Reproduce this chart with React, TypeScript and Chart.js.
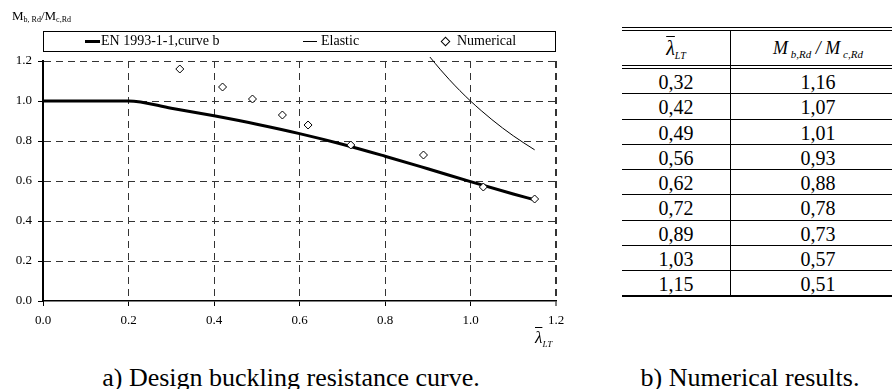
import React, { useEffect, useRef } from "react";
import { Chart, registerables } from "chart.js";

Chart.register(...registerables);

// ---- data ----
const xTicks = [0, 0.2, 0.4, 0.6, 0.8, 1.0, 1.2];
const yTicks = [0, 0.2, 0.4, 0.6, 0.8, 1.0, 1.2];

// EN 1993-1-1, curve b
const enLambda = [0, 0.2, 0.3, 0.4, 0.5, 0.6, 0.7, 0.8, 0.9, 1.0, 1.1, 1.15];
const enChi = [1.0, 1.0, 0.964, 0.926, 0.884, 0.837, 0.784, 0.724, 0.661, 0.597, 0.535, 0.506];

// Elastic curve
const elasticLambda = [0.905, 0.93, 0.95, 0.975, 1.0, 1.025, 1.05, 1.075, 1.1, 1.125, 1.15];
const elasticRatio = [1.22, 1.156, 1.108, 1.052, 1.0, 0.952, 0.907, 0.865, 0.826, 0.79, 0.756];

// Numerical results
const numLambda = [0.32, 0.42, 0.49, 0.56, 0.62, 0.72, 0.89, 1.03, 1.15];
const numRatio = [1.16, 1.07, 1.01, 0.93, 0.88, 0.78, 0.73, 0.57, 0.51];

const legendLabels = ["EN 1993-1-1,curve b", "Elastic", "Numerical"];
const captionA = "a) Design buckling resistance curve.";
const captionB = "b) Numerical results.";

const SERIF = '"Liberation Serif", "Times New Roman", serif';

const fmtComma = (v: number) => v.toFixed(2).replace(".", ",");

function ChartPanel() {
  const ref = useRef<HTMLCanvasElement | null>(null);
  useEffect(() => {
    if (!ref.current) return;
    const gridColor = (c: any) => {
      const v = c.tick ? c.tick.value : null;
      if (v === 0) return "rgba(0,0,0,0)";
      return "#333";
    };
    const chart = new Chart(ref.current, {
      type: "scatter",
      data: {
        datasets: [
          {
            label: legendLabels[2],
            data: numLambda.map((x, i) => ({ x, y: numRatio[i] })),
            showLine: false,
            pointStyle: "rectRot",
            pointRadius: 4,
            pointBackgroundColor: "#fff",
            pointBorderColor: "#000",
            pointBorderWidth: 1,
          },
          {
            label: legendLabels[0],
            data: enLambda.map((x, i) => ({ x, y: enChi[i] })),
            showLine: true,
            borderColor: "#000",
            borderWidth: 3,
            pointRadius: 0,
            cubicInterpolationMode: "monotone",
          } as any,
          {
            label: legendLabels[1],
            data: elasticLambda.map((x, i) => ({ x, y: elasticRatio[i] })),
            showLine: true,
            borderColor: "#000",
            borderWidth: 1,
            pointRadius: 0,
            cubicInterpolationMode: "monotone",
            clip: false,
          } as any,
        ],
      },
      options: {
        animation: false,
        responsive: false,
        devicePixelRatio: 1,
        layout: { padding: { left: 0, top: 61, right: 44, bottom: 4 } },
        plugins: { legend: { display: false }, tooltip: { enabled: false } },
        scales: {
          x: {
            type: "linear",
            min: 0,
            max: 1.2,
            afterBuildTicks: (s: any) => {
              s.ticks = xTicks.map((v) => ({ value: v }));
            },
            afterFit: (s: any) => {
              s.height = 25;
            },
            ticks: {
              color: "#000",
              font: { family: SERIF, size: 13 },
              padding: 7,
              maxRotation: 0,
              callback: (v: any) => Number(v).toFixed(1),
            },
            grid: {
              color: gridColor,
              lineWidth: (c: any) => (c.tick && c.tick.value === 1.2 ? 2 : 1),
              tickColor: "#000",
              tickLength: 5,
              tickWidth: 1,
            },
            border: { display: true, color: "#000", width: 1.5, dash: [7, 5] },
          },
          y: {
            type: "linear",
            min: 0,
            max: 1.2,
            afterBuildTicks: (s: any) => {
              s.ticks = yTicks.map((v) => ({ value: v }));
            },
            afterFit: (s: any) => {
              s.width = 43;
            },
            ticks: {
              color: "#000",
              font: { family: SERIF, size: 13 },
              padding: 6,
              callback: (v: any) => Number(v).toFixed(1),
            },
            grid: {
              color: gridColor,
              tickColor: "#000",
              tickLength: 5,
              tickWidth: 1,
            },
            border: { display: true, color: "#000", width: 2, dash: [7, 5] },
          },
        },
      } as any,
    });
    return () => chart.destroy();
  }, []);
  return (
    <canvas
      ref={ref}
      width={600}
      height={330}
      style={{ position: "absolute", left: 0, top: 0, width: 600, height: 330, display: "block" }}
    />
  );
}

function LambdaLT({ size, sub }: { size: number; sub: number }) {
  return (
    <span style={{ fontFamily: SERIF, fontStyle: "italic", whiteSpace: "nowrap" }}>
      <span style={{ fontSize: size, textDecoration: "overline", textDecorationThickness: 1 }}>λ</span>
      <sub style={{ fontSize: sub, verticalAlign: "baseline", position: "relative", top: size * 0.22 }}>LT</sub>
    </span>
  );
}

function Table() {
  const left = 622;
  const right = 906;
  const divX = 730;
  const rowTop0 = 69;
  const rowH = 25.25;
  const hLine = (y: number, h = 1) => (
    <div key={"l" + y} style={{ position: "absolute", left, top: y, width: right - left, height: h, background: "#000" }} />
  );
  const lines = [hLine(27), hLine(30), hLine(65), hLine(68)];
  for (let i = 1; i < numLambda.length; i++) lines.push(hLine(Math.round(rowTop0 + i * rowH) - 1));
  lines.push(hLine(295, 2));
  const cellStyle = (x: number, w: number, top: number): React.CSSProperties => ({
    position: "absolute",
    left: x,
    width: w,
    top,
    height: 25,
    lineHeight: "25px",
    textAlign: "center",
    fontFamily: SERIF,
    fontSize: 20,
    color: "#000",
  });
  return (
    <>
      {lines}
      <div style={{ position: "absolute", left: divX, top: 31, width: 1, height: 264, background: "#000" }} />
      <div style={{ ...cellStyle(left, divX - left, 33), height: 30, lineHeight: "30px" }}>
        <LambdaLT size={20} sub={10} />
      </div>
      <div
        style={{
          ...cellStyle(divX, right - divX, 33),
          height: 30,
          lineHeight: "30px",
          fontStyle: "italic",
          fontSize: 18,
        }}
      >
        M<sub style={{ fontSize: 11, verticalAlign: "baseline", position: "relative", top: 4 }}>&nbsp;b,Rd</sub> / M
        <sub style={{ fontSize: 11, verticalAlign: "baseline", position: "relative", top: 4 }}>&nbsp;c,Rd</sub>
      </div>
      {numLambda.map((v, i) => (
        <div key={"a" + i} style={cellStyle(left, divX - left, rowTop0 + i * rowH + 1)}>
          {fmtComma(v)}
        </div>
      ))}
      {numRatio.map((v, i) => (
        <div key={"b" + i} style={cellStyle(divX, right - divX, rowTop0 + i * rowH + 1)}>
          {fmtComma(v)}
        </div>
      ))}
    </>
  );
}

function Legend() {
  const text: React.CSSProperties = {
    position: "absolute",
    top: 31,
    height: 20,
    lineHeight: "20px",
    fontFamily: SERIF,
    fontSize: 14,
    color: "#000",
    whiteSpace: "nowrap",
  };
  return (
    <>
      <div
        style={{
          position: "absolute",
          left: 43,
          top: 31,
          width: 513,
          height: 21,
          border: "1px solid #000",
          boxSizing: "border-box",
        }}
      />
      <div style={{ position: "absolute", left: 85, top: 40, width: 15, height: 3, background: "#000" }} />
      <div style={{ ...text, left: 101 }}>{legendLabels[0]}</div>
      <div style={{ position: "absolute", left: 303, top: 41, width: 14, height: 1, background: "#000" }} />
      <div style={{ ...text, left: 321 }}>{legendLabels[1]}</div>
      <div
        style={{
          position: "absolute",
          left: 442,
          top: 38,
          width: 5,
          height: 5,
          border: "1px solid #000",
          transform: "rotate(45deg)",
          background: "#fff",
        }}
      />
      <div style={{ ...text, left: 457 }}>{legendLabels[2]}</div>
    </>
  );
}

export default function App() {
  return (
    <div
      style={{
        position: "fixed",
        left: 0,
        top: 0,
        width: 892,
        height: 389,
        background: "#fff",
        overflow: "hidden",
      }}
    >
      <ChartPanel />
      <div
        style={{
          position: "absolute",
          left: 12,
          top: 8,
          fontFamily: SERIF,
          fontSize: 13,
          lineHeight: "16px",
          color: "#000",
          whiteSpace: "nowrap",
        }}
      >
        M<sub style={{ fontSize: 8, verticalAlign: "baseline", position: "relative", top: 2 }}>b, Rd</sub>/M
        <sub style={{ fontSize: 8, verticalAlign: "baseline", position: "relative", top: 2 }}>c,Rd</sub>
      </div>
      <Legend />
      <div style={{ position: "absolute", left: 535, top: 328, lineHeight: "20px", color: "#000" }}>
        <LambdaLT size={17} sub={9} />
      </div>
      <div
        style={{
          position: "absolute",
          left: 91,
          width: 400,
          top: 365,
          lineHeight: "26px",
          textAlign: "center",
          fontFamily: SERIF,
          fontSize: 26,
          color: "#000",
          whiteSpace: "nowrap",
        }}
      >
        {captionA}
      </div>
      <div
        style={{
          position: "absolute",
          left: 550,
          width: 400,
          top: 365,
          lineHeight: "26px",
          textAlign: "center",
          fontFamily: SERIF,
          fontSize: 26,
          color: "#000",
          whiteSpace: "nowrap",
        }}
      >
        {captionB}
      </div>
      <Table />
    </div>
  );
}
